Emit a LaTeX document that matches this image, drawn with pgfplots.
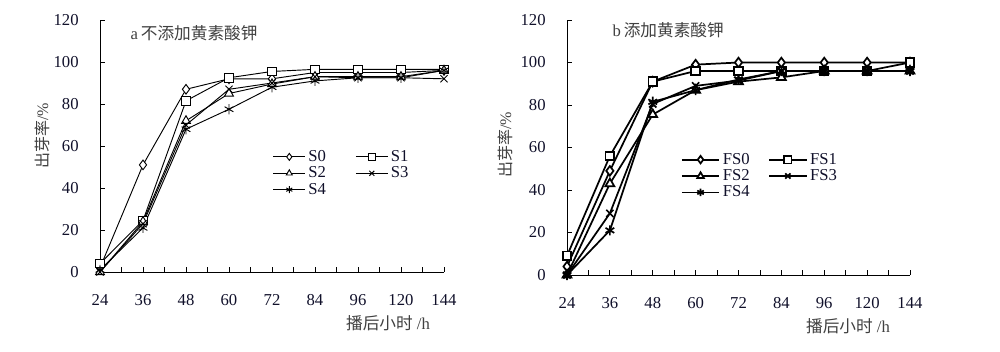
\documentclass[border=0pt]{standalone}
\usepackage{pgfplots}
\pgfplotsset{compat=1.18}
\usepackage{fontspec}
\setmainfont{Liberation Serif}
\newfontfamily\cjk{Noto Sans CJK SC}
\definecolor{lab}{HTML}{404040}
\definecolor{tk}{HTML}{10102A}
\begin{document}
\begin{tikzpicture}
\path[use as bounding box] (0pt,0pt) rectangle (750pt,263.25pt);
\pgfplotsset{
  myax/.style={
    scale only axis,
    axis lines=left, axis line style={-, line width=0.7pt},
    xmin=0,xmax=8,ymin=0,ymax=120,
    xtick={0,...,8},
    xticklabels={24,36,48,60,72,84,96,120,144},
    ytick={0,20,...,120},
    minor x tick num=1,
    tick align=inside,
    major tick length=4pt, minor tick length=4pt,
    tick style={black, line width=0.6pt},
    /pgf/number format/assume math mode=true,
    tick label style={font=\fontsize{12.5}{14}\selectfont, text=tk},
    xticklabel style={yshift=-13pt},
    yticklabel style={xshift=-12.5pt},
    clip=false,
    legend columns=2,
    legend cell align=left,
    legend style={draw=none, fill=none, font=\fontsize{12.5}{14}\selectfont, text=tk, row sep=-1.5pt},
    every axis plot/.append style={black, mark options={solid, fill=white}},
  },
  s0/.style={mark=diamond*, mark size=3.6pt},
  s1/.style={mark=square*, mark size=3.2pt},
  s2/.style={mark=triangle*, mark size=3.8pt},
  s3/.style={mark=x, mark size=3.8pt},
  s4/.style={mark=asterisk, mark size=3.8pt},
}
\begin{axis}[myax, at={(75pt,59.25pt)}, anchor=south west, width=258pt, height=189pt,
  every axis plot/.append style={line width=0.7pt},
  legend image code/.code={\draw[mark repeat=2,mark phase=2,/tikz/mark size=2.6pt] plot coordinates {(0pt,0pt) (12pt,0pt) (24pt,0pt)};},
  legend style={at={(0.49,0.505)}, anchor=north west, /tikz/every even column/.append style={column sep=20pt}}]
\addplot[s0] coordinates {(0,2) (1,51) (2,87) (3,92) (4,92) (5,95) (6,95) (7,95) (8,96)};
\addplot[s1] coordinates {(0,4) (1,24.5) (2,81.5) (3,92.5) (4,95.5) (5,96.5) (6,96.5) (7,96.5) (8,96.5)};
\addplot[s2] coordinates {(0,0) (1,24) (2,72) (3,85) (4,89.5) (5,93) (6,93) (7,93) (8,96)};
\addplot[s3] coordinates {(0,0) (1,23) (2,70) (3,87) (4,90) (5,93) (6,92.5) (7,92.5) (8,92)};
\addplot[s4] coordinates {(0,1) (1,21) (2,68) (3,77.5) (4,88) (5,91) (6,92.5) (7,92.5) (8,96)};
\legend{S0,S1,S2,S3,S4}
\end{axis}
\begin{axis}[myax, at={(425.25pt,57pt)}, anchor=south west, width=257.25pt, height=191.25pt,
  every axis plot/.append style={line width=1.3pt},
  legend image code/.code={\draw[mark repeat=2,mark phase=2,/tikz/mark size=2.8pt] plot coordinates {(0pt,0pt) (14pt,0pt) (28pt,0pt)};},
  legend style={at={(0.32,0.50)}, anchor=north west, /tikz/every even column/.append style={column sep=12pt}}]
\addplot[s0] coordinates {(0,4) (1,49) (2,91) (3,99) (4,100) (5,100) (6,100) (7,100) (8,100)};
\addplot[s1] coordinates {(0,9) (1,56) (2,91) (3,96) (4,96) (5,96) (6,96) (7,96) (8,100)};
\addplot[s2] coordinates {(0,0) (1,43) (2,75.5) (3,87) (4,91) (5,93) (6,96) (7,96) (8,96)};
\addplot[s3] coordinates {(0,0) (1,29) (2,80.5) (3,89) (4,91.5) (5,96) (6,96) (7,96) (8,96)};
\addplot[s4] coordinates {(0,0) (1,21) (2,81.5) (3,87) (4,92) (5,96) (6,96) (7,96) (8,96)};
\legend{FS0,FS1,FS2,FS3,FS4}
\end{axis}
% titles and labels
\node[anchor=west, text=lab, font=\fontsize{12.5}{14}\selectfont] at (94.5pt,238.5pt) {a\,{\cjk 不添加黄素酸钾}};
\node[anchor=west, text=lab, font=\fontsize{12.5}{14}\selectfont] at (456pt,240.75pt) {b\,{\cjk 添加黄素酸钾}};
\node[text=lab, font=\fontsize{12.5}{14}\selectfont] at (291pt,21pt) {{\cjk 播后小时} /h};
\node[text=lab, font=\fontsize{12.5}{14}\selectfont] at (636pt,18.75pt) {{\cjk 播后小时} /h};
\node[text=lab, rotate=90, font=\fontsize{12}{14}\selectfont] at (31.5pt,161.25pt) {{\cjk 出芽率}/\%};
\node[text=lab, rotate=90, font=\fontsize{12}{14}\selectfont] at (378.75pt,154.5pt) {{\cjk 出芽率}/\%};
\end{tikzpicture}
\end{document}
